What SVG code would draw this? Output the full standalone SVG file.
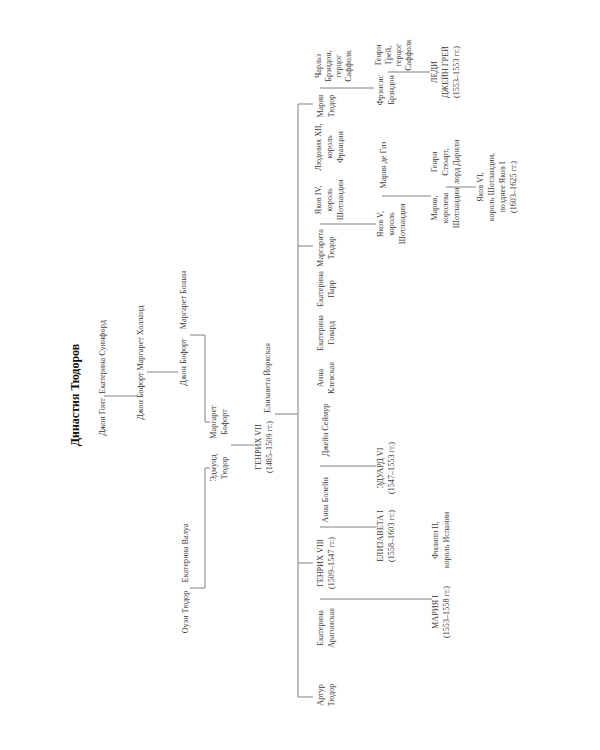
<svg xmlns="http://www.w3.org/2000/svg" width="600" height="750" viewBox="0 0 600 750">
<style>
.t{font-family:"Liberation Serif","DejaVu Serif",serif;font-size:8.2px;fill:#3a3a3a;text-anchor:middle}
.title{font-family:"Liberation Serif","DejaVu Serif",serif;font-size:12px;font-weight:bold;fill:#111;text-anchor:middle}
#connectors path{stroke:#808080;stroke-width:1;fill:none}
</style>
<rect width="600" height="750" fill="#fff"/>
<g id="title"><text class="title" transform="translate(79,395) rotate(-90)">Династия Тюдоров</text></g>
<g id="connectors">
<path d="M104,396H137"/>
<path d="M147,372H178"/>
<path d="M190,335H205V422H210"/>
<path d="M190,588H205V468H210"/>
<path d="M231,445H254"/>
<path d="M275,414H298"/>
<path d="M298,104V697"/>
<path d="M298,104H313M298,246H313M298,563H313M298,697H313"/>
<path d="M320,599H432"/>
<path d="M320,527H376"/>
<path d="M320,466H376"/>
<path d="M320,224H376"/>
<path d="M320,88H374"/>
<path d="M382,196H431"/>
<path d="M388,72H430"/>
<path d="M446,187H476"/>
</g>
<g id="gaunt"><text class="t" transform="translate(105,417) rotate(-90)">Джон Гонт</text></g>
<g id="swynford"><text class="t" transform="translate(105,357) rotate(-90)">Екатерина Суинфорд</text></g>
<g id="john-beaufort-1"><text class="t" transform="translate(143,396) rotate(-90)">Джон Бофорт</text></g>
<g id="holland"><text class="t" transform="translate(143,338) rotate(-90)">Маргарет Холланд</text></g>
<g id="john-beaufort-2"><text class="t" transform="translate(186,362) rotate(-90)">Джон Бофорт</text></g>
<g id="beauchamp"><text class="t" transform="translate(186,300) rotate(-90)">Маргарет Бошан</text></g>
<g id="owen"><text class="t" transform="translate(188,612) rotate(-90)">Оуэн Тюдор</text></g>
<g id="valois"><text class="t" transform="translate(188,553) rotate(-90)">Екатерина Валуа</text></g>
<g id="edmund"><text class="t" transform="translate(216,468) rotate(-90)"><tspan x="0" y="0">Эдмунд</tspan><tspan x="0" dy="11">Тюдор</tspan></text></g>
<g id="margaret-beaufort"><text class="t" transform="translate(216,422) rotate(-90)"><tspan x="0" y="0">Маргарет</tspan><tspan x="0" dy="11">Бофорт</tspan></text></g>
<g id="henry7"><text class="t" transform="translate(261,447) rotate(-90)"><tspan x="0" y="0">ГЕНРИХ VII</tspan><tspan x="0" dy="11">(1485–1509 гг.)</tspan></text></g>
<g id="elizabeth-york"><text class="t" transform="translate(270,378) rotate(-90)">Елизавета Йоркская</text></g>
<g id="arthur"><text class="t" transform="translate(323,695) rotate(-90)"><tspan x="0" y="0">Артур</tspan><tspan x="0" dy="11">Тюдор</tspan></text></g>
<g id="aragon"><text class="t" transform="translate(323,628) rotate(-90)"><tspan x="0" y="0">Екатерина</tspan><tspan x="0" dy="11">Арагонская</tspan></text></g>
<g id="henry8"><text class="t" transform="translate(323,563) rotate(-90)"><tspan x="0" y="0">ГЕНРИХ VIII</tspan><tspan x="0" dy="11">(1509–1547 гг.)</tspan></text></g>
<g id="boleyn"><text class="t" transform="translate(328,500) rotate(-90)">Анна Болейн</text></g>
<g id="seymour"><text class="t" transform="translate(328,430) rotate(-90)">Джейн Сеймур</text></g>
<g id="cleves"><text class="t" transform="translate(323,378) rotate(-90)"><tspan x="0" y="0">Анна</tspan><tspan x="0" dy="11">Клевская</tspan></text></g>
<g id="howard"><text class="t" transform="translate(323,333) rotate(-90)"><tspan x="0" y="0">Екатерина</tspan><tspan x="0" dy="11">Говард</tspan></text></g>
<g id="parr"><text class="t" transform="translate(323,289) rotate(-90)"><tspan x="0" y="0">Екатерина</tspan><tspan x="0" dy="11">Парр</tspan></text></g>
<g id="margaret-tudor"><text class="t" transform="translate(323,248) rotate(-90)"><tspan x="0" y="0">Маргарита</tspan><tspan x="0" dy="11">Тюдор</tspan></text></g>
<g id="james4"><text class="t" transform="translate(321,200) rotate(-90)"><tspan x="0" y="0">Яков IV,</tspan><tspan x="0" dy="11">король</tspan><tspan x="0" dy="11">Шотландии</tspan></text></g>
<g id="louis12"><text class="t" transform="translate(321,147) rotate(-90)"><tspan x="0" y="0">Людовик XII,</tspan><tspan x="0" dy="11">король</tspan><tspan x="0" dy="11">Франции</tspan></text></g>
<g id="mary-tudor"><text class="t" transform="translate(323,106) rotate(-90)"><tspan x="0" y="0">Мария</tspan><tspan x="0" dy="11">Тюдор</tspan></text></g>
<g id="brandon"><text class="t" transform="translate(321,66) rotate(-90)"><tspan x="0" y="0">Чарльз</tspan><tspan x="0" dy="10">Брэндон,</tspan><tspan x="0" dy="10">герцог</tspan><tspan x="0" dy="10">Саффолк</tspan></text></g>
<g id="edward6"><text class="t" transform="translate(383,468) rotate(-90)"><tspan x="0" y="0">ЭДУАРД VI</tspan><tspan x="0" dy="11">(1547–1553 гг.)</tspan></text></g>
<g id="elizabeth1"><text class="t" transform="translate(383,536) rotate(-90)"><tspan x="0" y="0">ЕЛИЗАВЕТА I</tspan><tspan x="0" dy="11">(1558–1603 гг.)</tspan></text></g>
<g id="james5"><text class="t" transform="translate(383,224) rotate(-90)"><tspan x="0" y="0">Яков V,</tspan><tspan x="0" dy="11">король</tspan><tspan x="0" dy="11">Шотландии</tspan></text></g>
<g id="guise"><text class="t" transform="translate(386,165) rotate(-90)">Мария де Гиз</text></g>
<g id="frances"><text class="t" transform="translate(383,90) rotate(-90)"><tspan x="0" y="0">Фрэнсис</tspan><tspan x="0" dy="11">Брэндон</tspan></text></g>
<g id="grey"><text class="t" transform="translate(381,55) rotate(-90)"><tspan x="0" y="0">Генри</tspan><tspan x="0" dy="10">Грей,</tspan><tspan x="0" dy="10">герцог</tspan><tspan x="0" dy="10">Саффолк</tspan></text></g>
<g id="mary1"><text class="t" transform="translate(438,612) rotate(-90)"><tspan x="0" y="0">МАРИЯ I</tspan><tspan x="0" dy="11">(1553–1558 гг.)</tspan></text></g>
<g id="philip2"><text class="t" transform="translate(438,540) rotate(-90)"><tspan x="0" y="0">Филипп II,</tspan><tspan x="0" dy="11">король Испании</tspan></text></g>
<g id="mary-scots"><text class="t" transform="translate(437,208) rotate(-90)"><tspan x="0" y="0">Мария,</tspan><tspan x="0" dy="11">королева</tspan><tspan x="0" dy="11">Шотландии</tspan></text></g>
<g id="darnley"><text class="t" transform="translate(437,162) rotate(-90)"><tspan x="0" y="0">Генри</tspan><tspan x="0" dy="11">Стюарт,</tspan><tspan x="0" dy="11">лорд Дарнли</tspan></text></g>
<g id="jane-grey"><text class="t" transform="translate(437,72) rotate(-90)"><tspan x="0" y="0">ЛЕДИ</tspan><tspan x="0" dy="11">ДЖЕЙН ГРЕЙ</tspan><tspan x="0" dy="11">(1553–1553 гг.)</tspan></text></g>
<g id="james6"><text class="t" transform="translate(483,187) rotate(-90)"><tspan x="0" y="0">Яков VI,</tspan><tspan x="0" dy="11">король Шотландии,</tspan><tspan x="0" dy="11">позднее Яков I</tspan><tspan x="0" dy="11">(1603–1625 гг.)</tspan></text></g>
</svg>
